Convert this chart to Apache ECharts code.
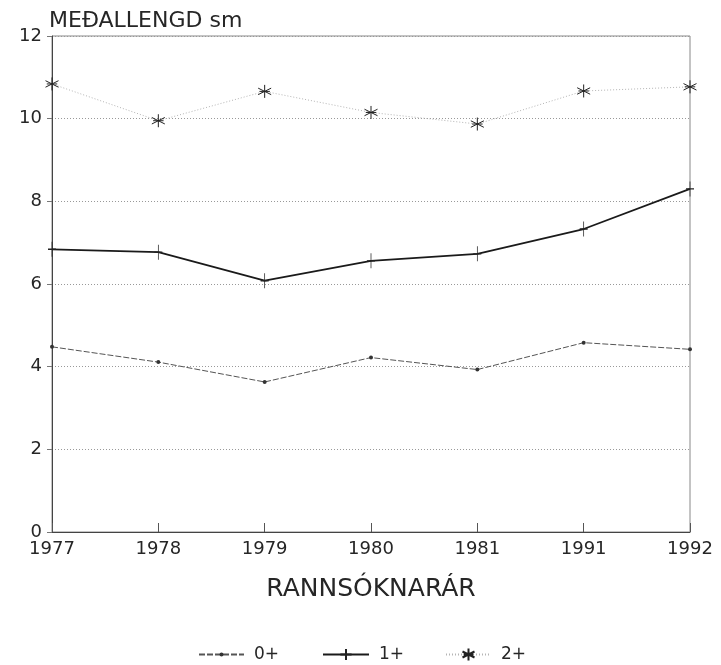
<!DOCTYPE html>
<html>
<head>
<meta charset="utf-8">
<script src="https://cdn.jsdelivr.net/npm/echarts@6/dist/echarts.min.js"></script>
<style>html,body{margin:0;padding:0;background:#fff}#c{width:721px;height:665px}</style>
</head>
<body>
<div id="c"></div>
<script>
var categories = ['1977', '1978', '1979', '1980', '1981', '1991', '1992'];
var s0 = [4.48, 4.11, 3.63, 4.22, 3.93, 4.58, 4.42];
var s1 = [6.84, 6.77, 6.08, 6.56, 6.73, 7.33, 8.30];
var s2 = [10.84, 9.95, 10.66, 10.15, 9.87, 10.67, 10.77];
var seriesNames = ['0+', '1+', '2+'];

var FONT = 'DejaVu Sans';
var TXT = '#262626';
var chart = echarts.init(document.getElementById('c'));
var star = 'path://M0,-1L0,1M-0.87,-0.5L0.87,0.5M-0.87,0.5L0.87,-0.5M-0.7,0L0.7,0';
var plus = 'path://M0,-1L0,1M-0.45,0L0.45,0';

function legendFor(name, left, ih, w) {
  return {
    data: [name], left: left, top: 646, padding: 0,
    itemWidth: w, itemHeight: ih, itemGap: 0,
    textStyle: {fontFamily: FONT, fontSize: 17, color: TXT, padding: [0, 0, 0, 5]}
  };
}

chart.setOption({
  animation: false,
  backgroundColor: '#fff',
  textStyle: {fontFamily: FONT},
  grid: {left: 52, right: 31, top: 36, bottom: 133, show: true, borderColor: '#888', borderWidth: 1},
  title: {
    text: 'MEÐALLENGD sm', left: 44, top: 5,
    textStyle: {fontFamily: FONT, fontSize: 22, fontWeight: 'normal', color: TXT}
  },
  legend: [
    legendFor(seriesNames[0], 198, 5, 45),
    legendFor(seriesNames[1], 322, 14, 46),
    legendFor(seriesNames[2], 445, 15, 45)
  ],
  xAxis: {
    type: 'category', data: categories, boundaryGap: false,
    name: 'RANNSÓKNARÁR', nameLocation: 'middle', nameGap: 45,
    nameTextStyle: {fontFamily: FONT, fontSize: 25, color: TXT},
    axisLine: {lineStyle: {color: '#444', width: 1}},
    axisTick: {inside: true, length: 9, lineStyle: {color: '#555'}},
    axisLabel: {fontFamily: FONT, fontSize: 18, color: TXT, margin: 8},
    splitLine: {show: false}
  },
  yAxis: {
    type: 'value', min: 0, max: 12, interval: 2,
    axisLine: {show: true, lineStyle: {color: '#444', width: 1}},
    axisTick: {show: true, length: 5, lineStyle: {color: '#777'}},
    axisLabel: {fontFamily: FONT, fontSize: 18, color: TXT, margin: 10, padding: [4, 0, 0, 0]},
    splitLine: {show: true, lineStyle: {color: '#999', type: [1, 2], width: 1}}
  },
  series: [
    {
      name: seriesNames[0], type: 'line', data: s0,
      symbol: 'circle', symbolSize: 4,
      lineStyle: {color: '#555', width: 1, type: [6, 2]},
      itemStyle: {color: '#333'}
    },
    {
      name: seriesNames[1], type: 'line', data: s1,
      symbol: plus, symbolSize: [8, 15],
      lineStyle: {color: '#1a1a1a', width: 1.8},
      itemStyle: {color: '#222', borderColor: '#222', borderWidth: 1}
    },
    {
      name: seriesNames[2], type: 'line', data: s2,
      symbol: star, symbolSize: 13,
      lineStyle: {color: '#b5b5b5', width: 1, type: [1, 2]},
      itemStyle: {color: '#222', borderColor: '#222', borderWidth: 1}
    }
  ]
});
</script>
</body>
</html>
